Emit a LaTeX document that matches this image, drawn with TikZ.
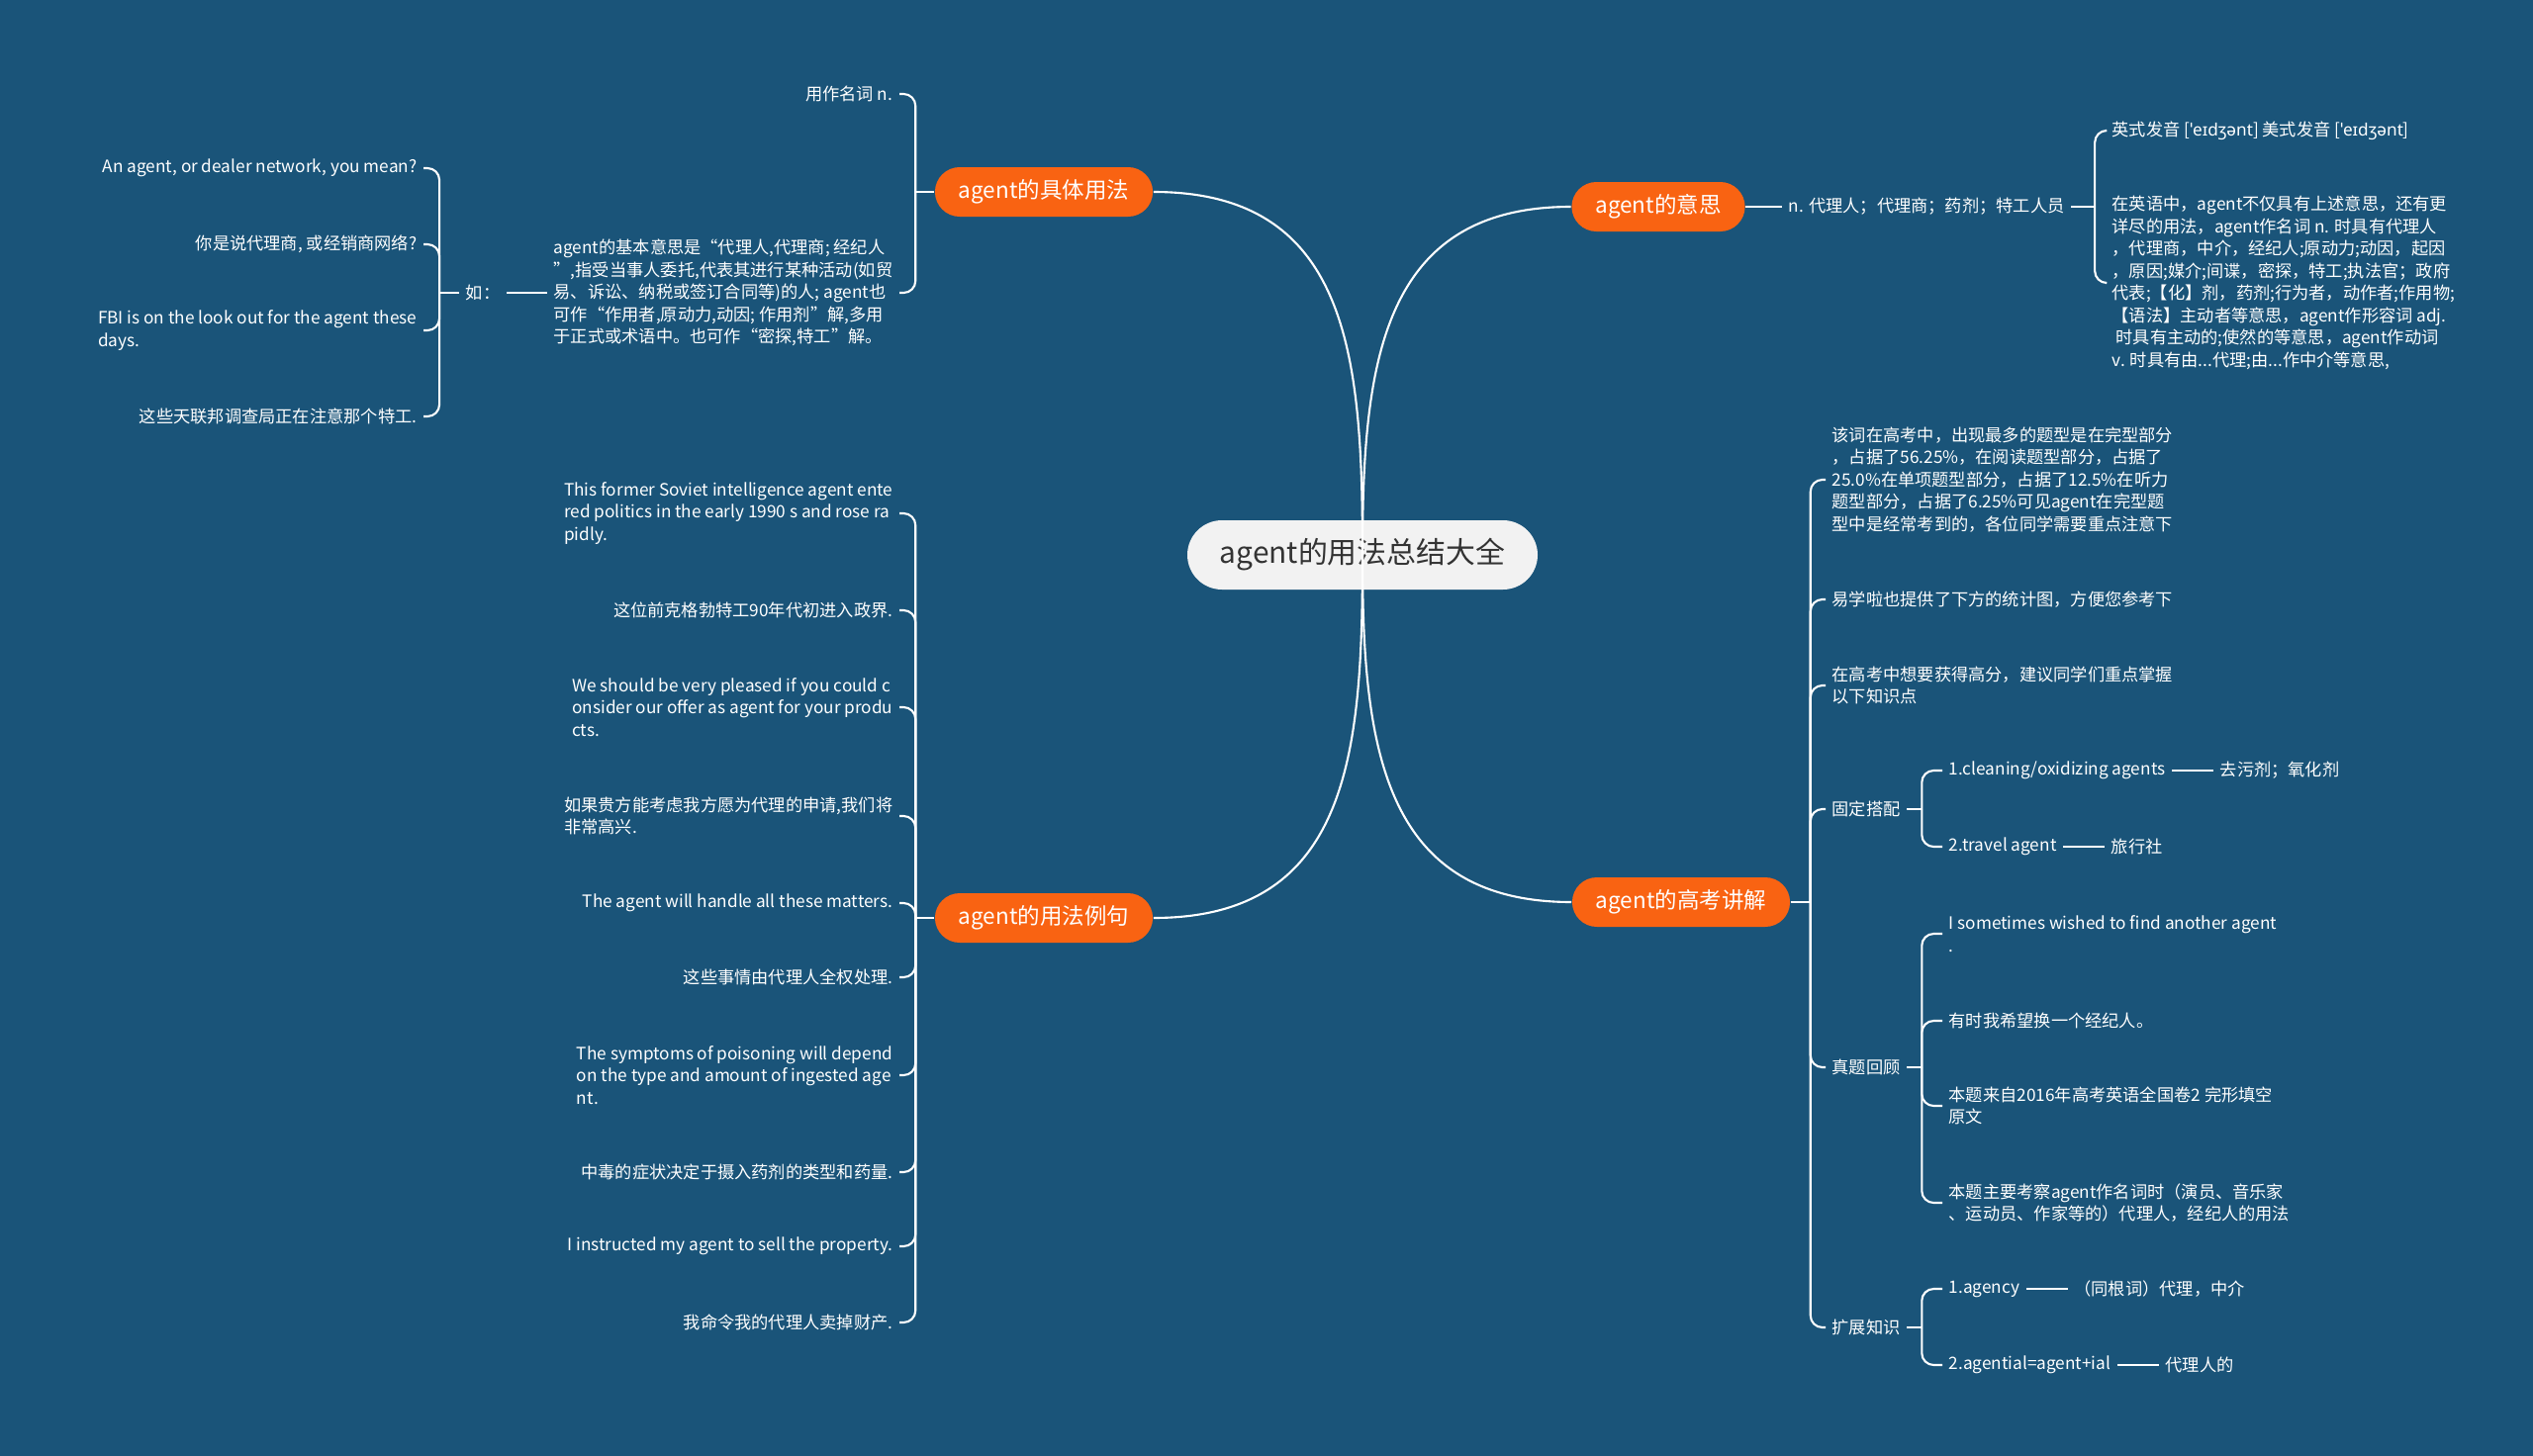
\documentclass[tikz,border=0pt]{standalone}
\usepackage{fontspec}
\setmainfont{Noto Sans CJK SC}
\newfontfamily\ipafont{Noto Sans}
\usepackage{tikz}
\usetikzlibrary{positioning}
\definecolor{bgblue}{RGB}{26,84,121}
\definecolor{topicorange}{RGB}{249,99,18}
\definecolor{rootfill}{RGB}{242,242,242}
\definecolor{roottext}{RGB}{51,51,51}

\begin{document}
\begin{tikzpicture}[
  root/.style={fill=rootfill, text=roottext, rounded corners=0.35cm, minimum width=3.54cm, minimum height=0.7cm, font=\fontsize{8.5}{10}\selectfont},
  topic/.style={fill=topicorange, text=white, rounded corners=0.25cm, minimum height=0.5cm, inner xsep=0.24cm, font=\fontsize{6.4}{8}\selectfont},
  leaf/.style={text=white, align=left, inner sep=0.06cm, font=\fontsize{4.9}{6.4}\selectfont},
  link/.style={draw=white, line width=0.6pt},
  brace/.style={link, rounded corners=0.12cm}
]
  \fill[bgblue] (0,0) rectangle (25.6,-14.72);

  \node[root] (root) at (13.77,-5.61) {agent的用法总结大全};
  \node[topic] (t1) at (10.55,-1.94) {agent的具体用法};
  \node[topic] (t2) at (16.76,-2.09) {agent的意思};
  \node[topic] (t3) at (10.55,-9.28) {agent的用法例句};
  \node[topic] (t4) at (16.99,-9.12) {agent的高考讲解};

  % agent的具体用法
  \node[leaf, anchor=east] (a1) at (9.09,-0.95) {用作名词 n.};
  \node[leaf, anchor=east] (a2) at (9.09,-2.96) {agent的基本意思是“代理人,代理商; 经纪人\\”,指受当事人委托,代表其进行某种活动(如贸\\易、诉讼、纳税或签订合同等)的人; agent也\\可作“作用者,原动力,动因; 作用剂”解,多用\\于正式或术语中。也可作“密探,特工”解。};
  \node[leaf] (ru) at (4.88,-2.96) {如：};
  \node[leaf, anchor=east] (e1) at (4.28,-1.70) {An agent, or dealer network, you mean?};
  \node[leaf, anchor=east] (e2) at (4.28,-2.47) {你是说代理商, 或经销商网络?};
  \node[leaf, anchor=east] (e3) at (4.28,-3.34) {FBI is on the look out for the agent these\\days.};
  \node[leaf, anchor=east] (e4) at (4.28,-4.21) {这些天联邦调查局正在注意那个特工.};

  % agent的意思
  \node[leaf, anchor=west] (m1) at (18.01,-2.09) {n. 代理人；代理商；药剂；特工人员};
  \node[leaf, anchor=west] (m2) at (21.28,-1.32) {英式发音 [{\ipafont ˈeɪdʒənt}] 美式发音 [{\ipafont ˈeɪdʒənt}]};
  \node[leaf, anchor=west] (m3) at (21.28,-2.86) {在英语中，agent不仅具有上述意思，还有更\\详尽的用法，agent作名词 n. 时具有代理人\\，代理商，中介，经纪人;原动力;动因，起因\\，原因;媒介;间谍，密探，特工;执法官；政府\\代表;【化】剂，药剂;行为者，动作者;作用物;\\【语法】主动者等意思，agent作形容词 adj.\\\ 时具有主动的;使然的等意思，agent作动词\\v. 时具有由...代理;由...作中介等意思,};

  % agent的用法例句
  \node[leaf, anchor=east] (u1) at (9.09,-5.19) {This former Soviet intelligence agent ente\\red politics in the early 1990 s and rose ra\\pidly.};
  \node[leaf, anchor=east] (u2) at (9.09,-6.17) {这位前克格勃特工90年代初进入政界.};
  \node[leaf, anchor=east] (u3) at (9.09,-7.15) {We should be very pleased if you could c\\onsider our offer as agent for your produ\\cts.};
  \node[leaf, anchor=east] (u4) at (9.09,-8.25) {如果贵方能考虑我方愿为代理的申请,我们将\\非常高兴.};
  \node[leaf, anchor=east] (u5) at (9.09,-9.13) {The agent will handle all these matters.};
  \node[leaf, anchor=east] (u6) at (9.09,-9.88) {这些事情由代理人全权处理.};
  \node[leaf, anchor=east] (u7) at (9.09,-10.87) {The symptoms of poisoning will depend\\on the type and amount of ingested age\\nt.};
  \node[leaf, anchor=east] (u8) at (9.09,-11.85) {中毒的症状决定于摄入药剂的类型和药量.};
  \node[leaf, anchor=east] (u9) at (9.09,-12.60) {I instructed my agent to sell the property.};
  \node[leaf, anchor=east] (u10) at (9.09,-13.37) {我命令我的代理人卖掉财产.};

  % agent的高考讲解
  \node[leaf, anchor=west] (g1) at (18.45,-4.85) {该词在高考中，出现最多的题型是在完型部分\\，占据了56.25\%，在阅读题型部分，占据了\\25.0\%在单项题型部分，占据了12.5\%在听力\\题型部分，占据了6.25\%可见agent在完型题\\型中是经常考到的，各位同学需要重点注意下};
  \node[leaf, anchor=west] (g2) at (18.45,-6.06) {易学啦也提供了下方的统计图，方便您参考下};
  \node[leaf, anchor=west] (g3) at (18.45,-6.93) {在高考中想要获得高分，建议同学们重点掌握\\以下知识点};
  \node[leaf, anchor=west] (g4) at (18.45,-8.18) {固定搭配};
  \node[leaf, anchor=west] (g5) at (18.45,-10.79) {真题回顾};
  \node[leaf, anchor=west] (g6) at (18.45,-13.42) {扩展知识};

  \node[leaf, anchor=west] (k1) at (19.63,-7.79) {1.cleaning/oxidizing agents};
  \node[leaf, right=0.42cm of k1] (k1r) {去污剂；氧化剂};
  \node[leaf, anchor=west] (k2) at (19.63,-8.56) {2.travel agent};
  \node[leaf, right=0.42cm of k2] (k2r) {旅行社};

  \node[leaf, anchor=west] (z1) at (19.63,-9.44) {I sometimes wished to find another agent\\.};
  \node[leaf, anchor=west] (z2) at (19.63,-10.32) {有时我希望换一个经纪人。};
  \node[leaf, anchor=west] (z3) at (19.63,-11.18) {本题来自2016年高考英语全国卷2 完形填空\\原文};
  \node[leaf, anchor=west] (z4) at (19.63,-12.16) {本题主要考察agent作名词时（演员、音乐家\\、运动员、作家等的）代理人，经纪人的用法};

  \node[leaf, anchor=west] (x1) at (19.63,-13.03) {1.agency};
  \node[leaf, right=0.42cm of x1] (x1r) {（同根词）代理，中介};
  \node[leaf, anchor=west] (x2) at (19.63,-13.80) {2.agential=agent+ial};
  \node[leaf, right=0.42cm of x2] (x2r) {代理人的};

  % connectors
  \draw[link] (root.center) to[out=90, in=0, looseness=1.2] (t1.east);
  \draw[link] (root.center) to[out=90, in=180, looseness=1.2] (t2.west);
  \draw[link] (root.center) to[out=-90, in=0, looseness=1.2] (t3.east);
  \draw[link] (root.center) to[out=-90, in=180, looseness=1.2] (t4.west);

  \draw[link] (t1.west) -- ++(-0.19,0) coordinate (s1);
  \foreach \n in {a1,a2} \draw[brace] (s1) |- (\n.east);
  \draw[link] (a2.west) -- (ru.east);
  \draw[link] (ru.west) -- ++(-0.2,0) coordinate (sr);
  \foreach \n in {e1,e2,e3,e4} \draw[brace] (sr) |- (\n.east);

  \draw[link] (t2) -- (m1);
  \draw[link] (m1.east) -- ++(0.24,0) coordinate (s2);
  \foreach \n in {m2,m3} \draw[brace] (s2) |- (\n.west);

  \draw[link] (t3.west) -- ++(-0.19,0) coordinate (s3);
  \foreach \n in {u1,u2,u3,u4,u5,u6,u7,u8,u9,u10} \draw[brace] (s3) |- (\n.east);

  \draw[link] (t4.east) -- ++(0.2,0) coordinate (s4);
  \foreach \n in {g1,g2,g3,g4,g5,g6} \draw[brace] (s4) |- (\n.west);

  \draw[link] (g4.east) -- ++(0.15,0) coordinate (s5);
  \foreach \n in {k1,k2} \draw[brace] (s5) |- (\n.west);
  \draw[link] (k1) -- (k1r);
  \draw[link] (k2) -- (k2r);

  \draw[link] (g5.east) -- ++(0.15,0) coordinate (s6);
  \foreach \n in {z1,z2,z3,z4} \draw[brace] (s6) |- (\n.west);

  \draw[link] (g6.east) -- ++(0.15,0) coordinate (s7);
  \foreach \n in {x1,x2} \draw[brace] (s7) |- (\n.west);
  \draw[link] (x1) -- (x1r);
  \draw[link] (x2) -- (x2r);
\end{tikzpicture}
\end{document}
